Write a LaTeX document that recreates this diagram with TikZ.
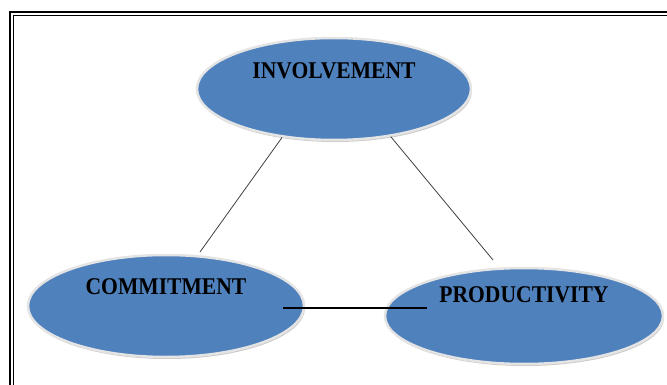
\documentclass[tikz,border=0pt]{standalone}
\usepackage{fontspec}
\setmainfont{Liberation Serif}
\usetikzlibrary{shapes.geometric, shadows, calc}

\definecolor{ovalblue}{HTML}{4F81BD}
\definecolor{rimgray}{HTML}{E4E4E4}

\begin{document}
\begin{tikzpicture}[
  x = 1pt, y = -1pt,
  oval/.style={ellipse, fill=ovalblue, draw=rimgray, line width=2.5pt,
    drop shadow={shadow xshift=1pt, shadow yshift=-2pt, fill=black!35, opacity=.6},
    inner sep=0pt},
  caption/.style={font=\bfseries\fontsize{24}{26}\selectfont, inner sep=0pt,
    xscale=.9, transform shape},
  link/.style={draw=black!75, line width=.8pt},
  bar/.style={draw=black, line width=1.3pt},
  frameout/.style={line width=2pt},
  framein/.style={line width=1pt}
]
\useasboundingbox (0,0) rectangle (667,385);
\clip (0,0) rectangle (667,385);

%page frame
\draw[frameout] (10,12) rectangle (700,420);
\draw[framein] (13.5,15.5) rectangle (697,417);

%the three ovals
\node[oval, minimum width=274pt, minimum height=102pt] (inv) at (334,89) {};
\node[oval, minimum width=276pt, minimum height=102pt] (com) at (166,306) {};
\node[oval, minimum width=278pt, minimum height=96pt]  (pro) at (524,316) {};

\node[caption] (invtxt) at ($(inv.center)+(0,-18)$) {INVOLVEMENT};
\node[caption] (comtxt) at ($(com.center)+(0,-19)$) {COMMITMENT};
\node[caption] (protxt) at ($(pro.center)+(0,-21)$) {PRODUCTIVITY};

%free ends of the links
\coordinate (comtop) at (200,252);
\coordinate (protop) at (493,260);
\coordinate (comin) at ($(com.center)+(117,2)$);
\coordinate (proin) at ($(pro.center)+(-97,-8)$);

\draw[link] (inv.223) -- (comtop);
\draw[link] (inv.320) -- (protop);
\draw[bar] (comin) -- (proin);

\end{tikzpicture}
\end{document}
